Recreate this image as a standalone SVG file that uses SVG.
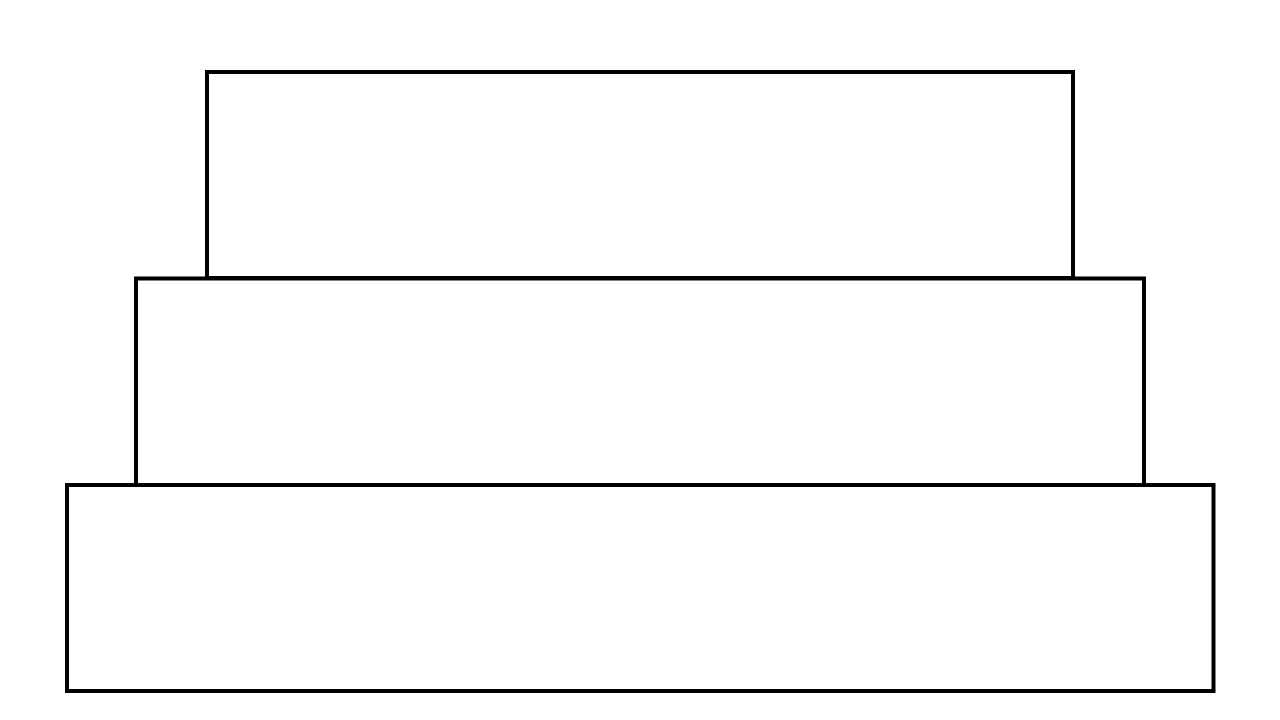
<svg xmlns="http://www.w3.org/2000/svg" width="1280" height="720" viewBox="0 0 1280 720">
<style>
.tier{fill:#ffffff;stroke:#000000;stroke-width:4;stroke-linejoin:miter}
</style>
<rect width="1280" height="720" fill="#ffffff"/>
<g id="tier-top"><rect class="tier" x="207" y="72" width="866" height="206"/></g>
<g id="tier-middle"><rect class="tier" x="136" y="278.5" width="1008" height="206.5"/></g>
<g id="tier-bottom"><rect class="tier" x="67" y="485" width="1146.5" height="206"/></g>
<g id="connectors"></g>
</svg>
